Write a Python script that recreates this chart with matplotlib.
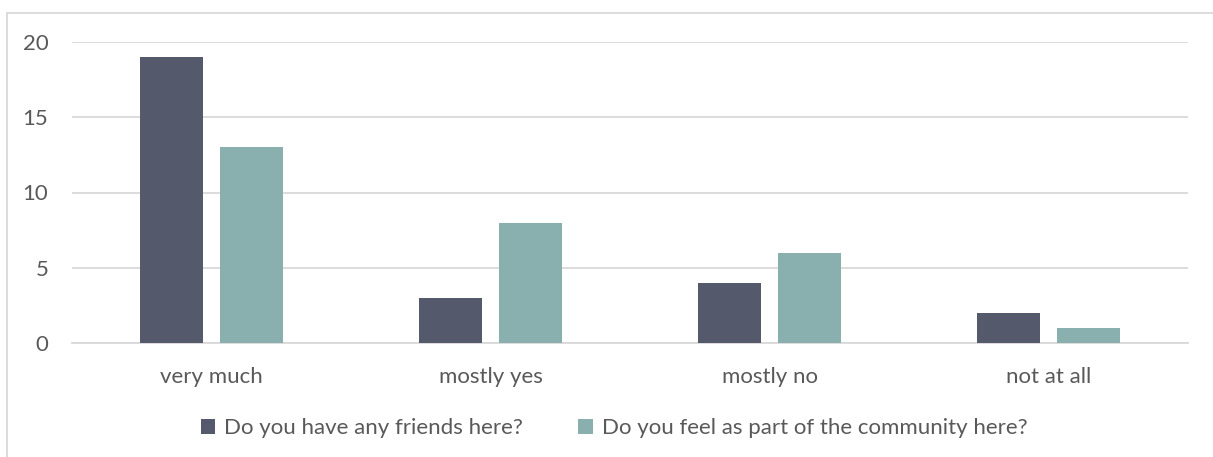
import matplotlib
matplotlib.use("Agg")
import matplotlib.pyplot as plt
import numpy as np
from matplotlib.patches import Rectangle

categories = ["very much", "mostly yes", "mostly no", "not at all"]
friends = [19, 3, 4, 2]
community = [13, 8, 6, 1]
series_names = ["Do you have any friends here?", "Do you feel as part of the community here?"]
yticks = [0, 5, 10, 15, 20]

dark = "#545a6c"
teal = "#89b0ae"
grid_c = "#d9d9d9"
text_c = "#595959"

plt.rcParams["font.family"] = ["Lato", "DejaVu Sans"]

fig = plt.figure(figsize=(12.13, 4.57), dpi=100)
ax = fig.add_axes([72/1213, 1-343/457, (1188-72)/1213, (343-42)/457])

x = np.arange(len(categories))
w = 0.226
off = 0.1435
ax.bar(x - off, friends, w, color=dark, label=series_names[0], zorder=3)
ax.bar(x + off, community, w, color=teal, label=series_names[1], zorder=3)

ax.set_xlim(-0.5, len(categories) - 0.5)
ax.set_ylim(0, 20)
ax.set_yticks(yticks)
ax.yaxis.grid(True, color=grid_c, linewidth=1.3, zorder=0)
ax.set_axisbelow(True)
for s in ["top", "right", "left"]:
    ax.spines[s].set_visible(False)
ax.spines["bottom"].set_color(grid_c)
ax.spines["bottom"].set_linewidth(1.3)
ax.set_xticks(x)
ax.set_xticklabels(categories)
ax.tick_params(axis="both", length=0, labelsize=16, colors=text_c)
ax.tick_params(axis="x", pad=17)
ax.tick_params(axis="y", pad=17)

leg = fig.legend(loc="center", bbox_to_anchor=(614/1213, 1-428/457), ncol=2,
                 frameon=False, fontsize=16, handlelength=0.65, handleheight=0.65,
                 handletextpad=0.4, columnspacing=2.5, labelcolor=text_c)

# outer chart frame
fig.patches.append(Rectangle((7/1213, -0.2), 1.2, 1-13/457+0.2, transform=fig.transFigure,
                             fill=False, edgecolor=grid_c, linewidth=1.3))

fig.savefig("out.png", dpi=100)
